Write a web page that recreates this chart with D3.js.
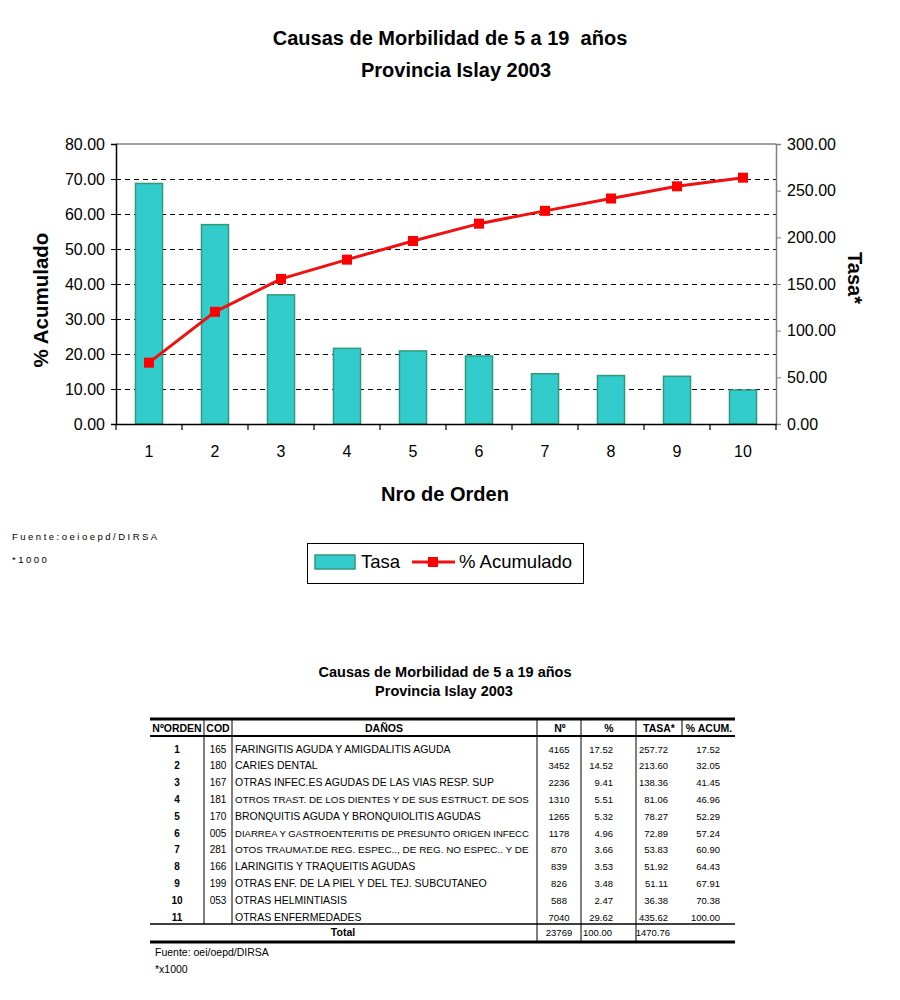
<!DOCTYPE html>
<html>
<head>
<meta charset="utf-8">
<script src="https://cdn.jsdelivr.net/npm/d3@7/dist/d3.min.js"></script>
<style>
  html, body { margin: 0; padding: 0; background: #fff; }
  svg { display: block; font-family: "Liberation Sans", Arial, sans-serif; }
  text { white-space: pre; }
</style>
</head>
<body>
<svg id="chart" width="900" height="1000"></svg>
<script>
// ---------- Data ----------
const categories = [1, 2, 3, 4, 5, 6, 7, 8, 9, 10];
const tasaValues = [257.72, 213.60, 138.36, 81.06, 78.27, 72.89, 53.83, 51.92, 51.11, 36.38];
const acumValues = [17.52, 32.05, 41.45, 46.96, 52.29, 57.24, 60.90, 64.43, 67.91, 70.38];
const leftTicks = [0, 10, 20, 30, 40, 50, 60, 70, 80];
const rightTicks = [0, 50, 100, 150, 200, 250, 300];

const tableOrden = ["1", "2", "3", "4", "5", "6", "7", "8", "9", "10", "11"];
const tableCod = ["165", "180", "167", "181", "170", "005", "281", "166", "199", "053", ""];
const tableDanos = [
  "FARINGITIS AGUDA Y AMIGDALITIS AGUDA",
  "CARIES DENTAL",
  "OTRAS INFEC.ES AGUDAS DE LAS VIAS RESP. SUP",
  "OTROS TRAST. DE LOS DIENTES Y DE SUS ESTRUCT. DE SOS",
  "BRONQUITIS AGUDA Y BRONQUIOLITIS AGUDAS",
  "DIARREA Y GASTROENTERITIS DE PRESUNTO ORIGEN INFECC",
  "OTOS TRAUMAT.DE REG. ESPEC.., DE REG. NO ESPEC.. Y DE",
  "LARINGITIS Y TRAQUEITIS AGUDAS",
  "OTRAS ENF. DE LA PIEL Y DEL TEJ. SUBCUTANEO",
  "OTRAS HELMINTIASIS",
  "OTRAS ENFERMEDADES"
];
const tableN = ["4165", "3452", "2236", "1310", "1265", "1178", "870", "839", "826", "588", "7040"];
const tablePct = ["17.52", "14.52", "9.41", "5.51", "5.32", "4.96", "3.66", "3.53", "3.48", "2.47", "29.62"];
const tableTasa = ["257.72", "213.60", "138.36", "81.06", "78.27", "72.89", "53.83", "51.92", "51.11", "36.38", "435.62"];
const tableAcum = ["17.52", "32.05", "41.45", "46.96", "52.29", "57.24", "60.90", "64.43", "67.91", "70.38", "100.00"];
const tableTotal = ["23769", "100.00", "1470.76"];
const tableHeaders = ["NºORDEN", "COD", "DAÑOS", "Nº", "%", "TASA*", "% ACUM."];

// ---------- Chart ----------
const svg = d3.select("#chart");
const X0 = 116, X1 = 776, Y0 = 144, Y1 = 424;

const x = d3.scaleBand().domain(categories).range([X0, X1]).padding(0);
const yL = d3.scaleLinear().domain([0, 80]).range([Y1, Y0]);
const yR = d3.scaleLinear().domain([0, 300]).range([Y1, Y0]);

// Titles
svg.append("text").attr("x", 450).attr("y", 45).attr("text-anchor", "middle")
  .attr("font-size", 20).attr("font-weight", "bold").text("Causas de Morbilidad de 5 a 19  años");
svg.append("text").attr("x", 456).attr("y", 77).attr("text-anchor", "middle")
  .attr("font-size", 20).attr("font-weight", "bold").text("Provincia Islay 2003");

// Gridlines (dashed, following left axis)
svg.append("g").selectAll("line").data(leftTicks.filter(d => d > 0 && d < 80)).join("line")
  .attr("x1", X0).attr("x2", X1)
  .attr("y1", d => yL(d) + 0.5).attr("y2", d => yL(d) + 0.5)
  .attr("stroke", "#000").attr("stroke-width", 1).attr("stroke-dasharray", "5,4");

// Top frame (gray)
svg.append("line").attr("x1", X0).attr("x2", X1).attr("y1", Y0).attr("y2", Y0)
  .attr("stroke", "#808080").attr("stroke-width", 1.5);

// Bars (Tasa, right axis)
const barW = x.bandwidth() * 0.41;
svg.append("g").selectAll("rect").data(categories).join("rect")
  .attr("x", (d) => x(d) + x.bandwidth() / 2 - barW / 2)
  .attr("y", (d, i) => yR(tasaValues[i]))
  .attr("width", barW)
  .attr("height", (d, i) => Y1 - yR(tasaValues[i]))
  .attr("fill", "#33CCCC").attr("stroke", "#339977").attr("stroke-width", 1.5);

// Left axis
const axL = d3.axisLeft(yL).tickValues(leftTicks).tickFormat(d3.format(".2f")).tickSize(5).tickPadding(6);
const gL = svg.append("g").attr("transform", `translate(${X0},0)`).call(axL);
gL.select(".domain").attr("stroke", "#000").attr("stroke-width", 1.5);
gL.selectAll(".tick text").attr("font-size", 16).attr("font-family", "Liberation Sans, Arial, sans-serif").attr("fill", "#000");

// Right axis
const axR = d3.axisRight(yR).tickValues(rightTicks).tickFormat(d3.format(".2f")).tickSize(5).tickPadding(6);
const gR = svg.append("g").attr("transform", `translate(${X1},0)`).call(axR);
gR.select(".domain").attr("stroke", "#808080").attr("stroke-width", 1.5);
gR.selectAll(".tick line").attr("stroke", "#808080");
gR.selectAll(".tick text").attr("font-size", 16).attr("font-family", "Liberation Sans, Arial, sans-serif").attr("fill", "#000");

// Bottom axis
const axB = d3.axisBottom(x).tickSize(0).tickPadding(22);
const gB = svg.append("g").attr("transform", `translate(0,${Y1})`).call(axB);
gB.select(".domain").attr("stroke", "#000").attr("stroke-width", 1.5);
gB.selectAll(".tick text").attr("font-size", 16).attr("font-family", "Liberation Sans, Arial, sans-serif").attr("fill", "#000");
const bounds = categories.map(d => x(d)).concat([X1]);
svg.append("g").selectAll("line").data(bounds).join("line")
  .attr("x1", d => d).attr("x2", d => d).attr("y1", Y1).attr("y2", Y1 + 6)
  .attr("stroke", "#000").attr("stroke-width", 1.2);

// Line (% Acumulado, left axis)
const line = d3.line().x((d, i) => x(categories[i]) + x.bandwidth() / 2).y(d => yL(d));
svg.append("path").datum(acumValues).attr("d", line)
  .attr("fill", "none").attr("stroke", "#EE1111").attr("stroke-width", 3);
svg.append("g").selectAll("rect").data(acumValues).join("rect")
  .attr("x", (d, i) => x(categories[i]) + x.bandwidth() / 2 - 5)
  .attr("y", d => yL(d) - 5)
  .attr("width", 10).attr("height", 10).attr("fill", "#FF0000");

// Axis titles
svg.append("text").attr("transform", "translate(48,300) rotate(-90)").attr("text-anchor", "middle")
  .attr("font-size", 20.5).attr("font-weight", "bold").text("% Acumulado");
svg.append("text").attr("transform", "translate(848,278) rotate(90)").attr("text-anchor", "middle")
  .attr("font-size", 20).attr("font-weight", "bold").text("Tasa*");
svg.append("text").attr("x", 445).attr("y", 501).attr("text-anchor", "middle")
  .attr("font-size", 20).attr("font-weight", "bold").text("Nro de Orden");

// Footnotes
svg.append("text").attr("x", 12).attr("y", 540).attr("font-size", 9.5).attr("letter-spacing", 2.5)
  .text("Fuente:oeioepd/DIRSA");
svg.append("text").attr("x", 12).attr("y", 563).attr("font-size", 9.5).attr("letter-spacing", 2.5)
  .text("*1000");

// Legend
const lg = svg.append("g");
lg.append("rect").attr("x", 307.5).attr("y", 543.5).attr("width", 276).attr("height", 40)
  .attr("fill", "#fff").attr("stroke", "#000").attr("stroke-width", 1);
lg.append("rect").attr("x", 315).attr("y", 555).attr("width", 40).attr("height", 14)
  .attr("fill", "#33CCCC").attr("stroke", "#339977").attr("stroke-width", 1.5);
lg.append("text").attr("x", 361).attr("y", 568).attr("font-size", 18.5).text("Tasa");
lg.append("line").attr("x1", 412).attr("x2", 455).attr("y1", 562).attr("y2", 562)
  .attr("stroke", "#EE1111").attr("stroke-width", 3);
lg.append("rect").attr("x", 428).attr("y", 557).attr("width", 10).attr("height", 10).attr("fill", "#FF0000");
lg.append("text").attr("x", 459).attr("y", 568).attr("font-size", 18.5).text("% Acumulado");

// ---------- Table ----------
const tg = svg.append("g");
tg.append("text").attr("x", 445).attr("y", 677).attr("text-anchor", "middle")
  .attr("font-size", 14.5).attr("font-weight", "bold").text("Causas de Morbilidad de 5 a 19 años");
tg.append("text").attr("x", 444).attr("y", 696).attr("text-anchor", "middle")
  .attr("font-size", 14.5).attr("font-weight", "bold").text("Provincia Islay 2003");

const TL = 150, TR = 735;
const rowH = 16.8, row1C = 749;
const rowC = i => row1C + i * rowH;
const headC = 728;
const totalC = 932.5;

// horizontal rules
tg.append("line").attr("x1", TL).attr("x2", TR).attr("y1", 719).attr("y2", 719).attr("stroke", "#000").attr("stroke-width", 3);
tg.append("line").attr("x1", TL).attr("x2", TR).attr("y1", 736).attr("y2", 736).attr("stroke", "#000").attr("stroke-width", 2);
tg.append("line").attr("x1", TL).attr("x2", TR).attr("y1", 924).attr("y2", 924).attr("stroke", "#000").attr("stroke-width", 1.5);
tg.append("line").attr("x1", TL).attr("x2", TR).attr("y1", 942).attr("y2", 942).attr("stroke", "#000").attr("stroke-width", 3);

// vertical rules
[204, 232].forEach(v => tg.append("line").attr("x1", v).attr("x2", v).attr("y1", 720).attr("y2", 924).attr("stroke", "#000").attr("stroke-width", 1));
[537, 581, 636].forEach(v => tg.append("line").attr("x1", v).attr("x2", v).attr("y1", 720).attr("y2", 941).attr("stroke", "#000").attr("stroke-width", 1));
tg.append("line").attr("x1", 682).attr("x2", 682).attr("y1", 720).attr("y2", 736).attr("stroke", "#000").attr("stroke-width", 1);

// headers
const headPos = [177, 218, 384, 560, 609, 659, 709];
tg.selectAll("text.hd").data(tableHeaders).join("text").attr("class", "hd")
  .attr("x", (d, i) => headPos[i]).attr("y", headC + 3.8).attr("text-anchor", "middle")
  .attr("font-size", 10.5).attr("font-weight", "bold").text(d => d);

// clip for DAÑOS column
svg.append("defs").append("clipPath").attr("id", "danosClip")
  .append("rect").attr("x", 232).attr("y", 736).attr("width", 304).attr("height", 190);

function col(data, xx, anchor, opts = {}) {
  const g = tg.append("g");
  if (opts.clip) g.attr("clip-path", "url(#danosClip)");
  const base = opts.fs || 9.5;
  const t = g.selectAll("text").data(data).join("text")
    .attr("x", xx).attr("y", (d, i) => rowC(i) + 3.6).attr("text-anchor", anchor)
    .attr("font-size", base).attr("font-weight", opts.bold ? "bold" : "normal").text(d => d);
  if (opts.maxW) {
    t.each(function () {
      const w = this.getComputedTextLength();
      if (w > opts.maxW) d3.select(this).attr("font-size", (base * opts.maxW / w).toFixed(2));
    });
  }
}
col(tableOrden, 177, "middle", {bold: true, fs: 10});
col(tableCod, 218, "middle", {fs: 10});
col(tableDanos, 235, "start", {clip: true, fs: 10.5, maxW: 294});
col(tableN, 559, "middle");
col(tablePct, 613, "end");
col(tableTasa, 668, "end");
col(tableAcum, 720, "end");

// total row
tg.append("text").attr("x", 343).attr("y", totalC + 3.8).attr("text-anchor", "middle")
  .attr("font-size", 10.5).attr("font-weight", "bold").text("Total");
const totPos = [{x: 559, a: "middle"}, {x: 612, a: "end"}, {x: 670, a: "end"}];
tg.selectAll("text.tot").data(tableTotal).join("text").attr("class", "tot")
  .attr("x", (d, i) => totPos[i].x).attr("y", totalC + 3.6).attr("text-anchor", (d, i) => totPos[i].a)
  .attr("font-size", 9.5).text(d => d);

// table footnotes
tg.append("text").attr("x", 155).attr("y", 956).attr("font-size", 10.5).text("Fuente: oei/oepd/DIRSA");
tg.append("text").attr("x", 155).attr("y", 973).attr("font-size", 10.5).text("*x1000");
</script>
</body>
</html>
